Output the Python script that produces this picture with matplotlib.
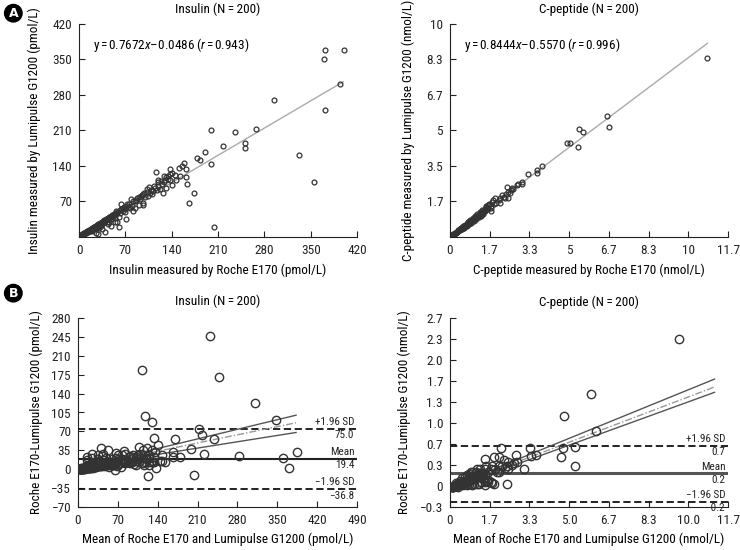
import numpy as np
import matplotlib
matplotlib.use('Agg')
from matplotlib import pyplot as plt
from matplotlib import transforms

FONTS = ['Roboto Condensed', 'Barlow Condensed', 'PT Sans Narrow', 'Archivo Narrow',
         'Liberation Sans', 'DejaVu Sans']
plt.rcParams['font.family'] = FONTS
plt.rcParams['mathtext.fontset'] = 'custom'
plt.rcParams['mathtext.rm'] = 'Roboto Condensed'
plt.rcParams['mathtext.it'] = 'Roboto Condensed:italic'
plt.rcParams['font.size'] = 9

# insulin, pmol/L: Roche E170 (x) vs Lumipulse G1200 (y)
ins_roche = [400, 372, 370, 394, 372, 294, 332, 355, 267, 236,
             199, 217, 250, 250, 199, 190, 178, 182, 159, 161,
             151, 162, 163, 174, 166, 204,
             117, 128, 131, 135, 138, 140, 138, 130, 138, 147,
             141, 127, 123, 120, 118, 125, 132, 106, 108, 110,
             102, 104, 98, 95, 92, 96, 100, 88, 85, 90,
             84, 82, 80, 78, 72, 70, 68, 66, 64, 62,
             60, 58, 60, 63, 58, 56, 55, 52, 50, 48,
             46, 45, 44, 42, 40, 39, 38, 36, 35, 34,
             33, 32, 30, 30, 29, 28, 28, 27, 26, 25,
             24, 23, 22, 21, 20, 20, 19, 18, 17, 16,
             15, 14, 13, 12, 11, 10, 9, 8, 7, 6,
             5, 4, 3, 2,
             10, 12, 15, 18, 22, 25, 28, 31, 34, 37,
             40, 43, 47, 50, 54, 57, 8, 6, 14, 16,
             19, 21, 24, 26, 27, 33, 36, 41, 44, 49,
             53, 56, 65, 75, 76, 86, 94, 112, 115, 120,
             3, 4, 5, 6, 7, 9, 11, 13, 17, 20,
             23, 25, 29, 32, 35, 38, 42, 48, 51, 55,
             71, 62, 66, 69, 73, 77, 81, 97, 91, 97,
             103, 107, 113, 119, 124, 129, 134, 145, 152, 155]
ins_lumi = [369, 369, 350, 302, 250, 270, 162, 109, 212, 208,
            210, 180, 186, 175, 143, 168, 155, 151, 145, 134,
            136, 118, 105, 87, 68, 20,
            129, 120, 118, 121, 124, 127, 135, 112, 112, 112,
            102, 86, 95, 100, 92, 105, 96, 98, 92, 84,
            88, 80, 86, 82, 75, 68, 78, 76, 70, 64,
            58, 52, 62, 74, 66, 56, 60, 52, 66, 48,
            40, 30, 20, 56, 50, 46, 38, 44, 42, 36,
            40, 30, 26, 35, 34, 10, 30, 28, 25, 30,
            22, 26, 25, 18, 22, 20, 5, 24, 18, 21,
            16, 19, 18, 15, 17, 12, 14, 15, 13, 14,
            12, 11, 10, 10, 9, 8, 7, 7, 6, 5,
            4, 4, 2, 2,
            9, 11, 13, 16, 19, 22, 24, 27, 28, 32,
            35, 36, 40, 44, 46, 48, 6, 6, 12, 12,
            16, 17, 20, 22, 22, 28, 31, 33, 38, 40,
            45, 52, 55, 60, 66, 72, 80, 90, 96, 108,
            3, 3, 5, 4, 7, 8, 10, 11, 14, 15,
            20, 8, 25, 24, 15, 33, 30, 22, 40, 30,
            35, 54, 58, 50, 62, 57, 70, 63, 78, 84,
            94, 86, 100, 112, 110, 108, 114, 122, 120, 140]

# C-peptide, nmol/L
cp_roche = [10.78, 6.59, 6.66, 5.43, 5.59, 4.90, 5.04, 5.36, 3.85, 3.66,
            3.66, 3.26, 3.01, 3.01, 2.80, 2.41, 2.87, 2.66, 2.45, 2.31,
            2.10, 1.89, 1.75, 1.61, 1.47, 2.55, 2.50, 2.20, 2.05, 1.95,
            1.80, 1.70, 1.65, 2.60, 2.35, 1.55, 1.50, 1.45, 2.44, 2.10,
            1.70, 0.77, 1.85, 2.25,
            0.05, 0.10, 0.12, 0.15, 0.18, 0.20, 0.22, 0.25, 0.28, 0.30,
            0.32, 0.35, 0.38, 0.40, 0.42, 0.45, 0.48, 0.50, 0.52, 0.55,
            0.58, 0.60, 0.62, 0.65, 0.68, 0.70, 0.72, 0.75, 0.78, 0.80,
            0.82, 0.85, 0.88, 0.90, 0.92, 0.95, 0.98, 1.00, 1.02, 1.05,
            1.08, 1.10, 1.12, 1.15, 1.18, 1.20, 1.22, 1.25, 1.28, 1.30,
            1.32, 1.35, 1.38, 1.40, 1.42, 1.45,
            0.30, 0.35, 0.50, 0.55, 0.60, 0.70, 0.75, 0.80, 0.85, 0.90,
            0.95, 1.00, 1.05, 1.10, 1.15, 1.20, 1.25, 1.30, 1.35, 1.40,
            1.50, 1.60, 1.65, 1.70,
            0.08, 0.14, 0.24, 0.34, 0.44, 0.54, 0.64, 0.74, 0.84, 0.94,
            1.04, 1.14, 1.24, 1.34, 1.44, 0.66, 0.86, 1.06, 1.26, 0.46]
cp_lumi = [8.42, 5.68, 5.16, 5.08, 4.94, 4.41, 4.41, 4.21, 3.33, 3.15,
           3.02, 2.96, 2.60, 2.49, 2.44, 2.35, 2.47, 2.24, 2.13, 1.82,
           1.85, 1.82, 1.66, 1.50, 1.27, 2.20, 2.05, 1.95, 1.75, 1.60,
           1.72, 1.45, 1.55, 2.30, 2.00, 1.35, 1.40, 1.30, 1.81, 1.60,
           1.24, 0.69, 1.55, 1.90,
           0.04, 0.08, 0.10, 0.13, 0.15, 0.17, 0.19, 0.21, 0.24, 0.25,
           0.28, 0.30, 0.31, 0.34, 0.36, 0.38, 0.40, 0.43, 0.44, 0.46,
           0.48, 0.50, 0.53, 0.55, 0.57, 0.60, 0.60, 0.63, 0.66, 0.68,
           0.70, 0.72, 0.73, 0.77, 0.78, 0.80, 0.82, 0.85, 0.86, 0.90,
           0.92, 0.93, 0.96, 0.97, 1.00, 1.03, 1.05, 1.06, 1.10, 1.12,
           1.13, 1.14, 1.18, 1.20, 1.22, 1.24,
           0.22, 0.33, 0.38, 0.50, 0.44, 0.52, 0.70, 0.60, 0.78, 0.68,
           0.90, 0.75, 0.98, 0.85, 1.08, 0.95, 1.18, 1.00, 1.25, 1.10,
           1.45, 1.30, 1.52, 1.35,
           0.06, 0.12, 0.20, 0.28, 0.38, 0.45, 0.52, 0.64, 0.70, 0.76,
           0.88, 0.98, 1.04, 1.10, 1.20, 0.56, 0.74, 0.88, 1.06, 0.40]

# fitted lines
ins_fit_x = [0, 399]
ins_fit_y = [0, 306]
cp_fit_x = [0, 10.8]
cp_fit_y = [0, 9.09]

# Bland-Altman summary values
ins_mean, ins_upper, ins_lower = 19.4, 75.0, -36.8
cp_mean, cp_upper, cp_lower = 0.233, 0.675, -0.213
ins_ba_labels = ['+1.96 SD', '75.0', 'Mean', '19.4', '\u22121.96 SD', '\u221236.8']
cp_ba_labels = ['+1.96 SD', '0.7', 'Mean', '0.2', '\u22121.96 SD', '\u22120.2']

# regression of difference on mean, with 95% CI
ins_reg_x = [0, 60, 383]
ins_reg_mid = [3, 16, 86]
ins_reg_hi = [5, 18, 100]
ins_reg_lo = [1, 14, 68]
cp_reg_x = [0, 1.5, 11.1]
cp_reg_mid = [0.01, 0.225, 1.605]
cp_reg_hi = [0.03, 0.25, 1.73]
cp_reg_lo = [-0.01, 0.20, 1.52]

ins_ticks = [0, 70, 140, 210, 280, 350, 420]
ins_ba_xticks = [0, 70, 140, 210, 280, 350, 420, 490]
ins_ba_yticks = [-70, -35, 0, 35, 70, 105, 140, 175, 210, 245, 280]
cp_step = 11.6667 / 7
cp_xlabels = ['0', '1.7', '3.3', '5', '6.7', '8.3', '10', '11.7']
cp_ylabels = ['1.7', '3.5', '5', '6.7', '8.3', '10']
cp_ba_xlabels = ['0', '1.7', '3.3', '5.0', '6.7', '8.3', '10.0', '11.7']
cp_ba_ylabels = ['\u22120.3', '0', '0.3', '0.7', '1.0', '1.3', '1.7', '2.0', '2.3', '2.7']

FS = 9.5


def style(ax):
    ax.spines['top'].set_visible(False)
    ax.spines['right'].set_visible(False)
    for s in ['left', 'bottom']:
        ax.spines[s].set_linewidth(0.8)
        ax.spines[s].set_color('#222222')
    ax.tick_params(direction='in', length=4, width=0.8, labelsize=FS, pad=5, colors='#222222')


fig = plt.figure(figsize=(7.4, 5.5), dpi=100)
ax1 = fig.add_axes([0.1068, 0.5691, 0.3757, 0.3873])
ax2 = fig.add_axes([0.6081, 0.5691, 0.3757, 0.3873])
ax3 = fig.add_axes([0.1054, 0.0782, 0.3770, 0.3436])
ax4 = fig.add_axes([0.6081, 0.0782, 0.3757, 0.3436])

# --- top-left: insulin correlation
ax1.plot(ins_fit_x, ins_fit_y, color='#aaaaaa', lw=1)
ax1.plot(ins_roche, ins_lumi, 'o', ms=3.5, mfc='none', mec='#333333', mew=0.9)
ax1.set_xlim(0, 420)
ax1.set_ylim(0, 420)
ax1.set_xticks(ins_ticks)
ax1.set_yticks(ins_ticks[1:])
style(ax1)
ax1.set_title('Insulin (N\u2009=\u2009200)', fontsize=FS, pad=8)
ax1.set_xlabel('Insulin measured by Roche E170 (pmol/L)', fontsize=FS, labelpad=5)
ax1.set_ylabel('Insulin measured by Lumipulse G1200 (pmol/L)', fontsize=FS, labelpad=8)
ax1.text(0.05, 0.9, r'y$\,$=$\,$0.7672$\mathit{x}$' + '\u2013' + r'0.0486 ($\mathit{r}$$\,$=$\,$0.943)',
         transform=ax1.transAxes, fontsize=FS, va='center')

# --- top-right: C-peptide correlation
ax2.plot(cp_fit_x, cp_fit_y, color='#aaaaaa', lw=1)
ax2.plot(cp_roche, cp_lumi, 'o', ms=3.5, mfc='none', mec='#333333', mew=0.9)
ax2.set_xlim(0, 7 * cp_step)
ax2.set_ylim(0, 10)
ax2.set_xticks([i * cp_step for i in range(8)], cp_xlabels)
ax2.set_yticks([i * 10 / 6 for i in range(1, 7)], cp_ylabels)
style(ax2)
ax2.set_title('C-peptide (N\u2009=\u2009200)', fontsize=FS, pad=8)
ax2.set_xlabel('C-peptide measured by Roche E170 (nmol/L)', fontsize=FS, labelpad=5)
ax2.set_ylabel('C-peptide measured by Lumipulse G1200 (nmol/L)', fontsize=FS, labelpad=8)
ax2.text(0.05, 0.9, r'y$\,$=$\,$0.8444$\mathit{x}$' + '\u2013' + r'0.5570 ($\mathit{r}$$\,$=$\,$0.996)',
         transform=ax2.transAxes, fontsize=FS, va='center')


def bland_altman(ax, roche, lumi, mean, upper, lower, labels, reg_x, reg_mid, reg_hi, reg_lo,
                 mean_color='#222222', mean_lw=1.5):
    roche = np.array(roche)
    lumi = np.array(lumi)
    avg = (roche + lumi) / 2
    diff = roche - lumi
    ax.axhline(upper, color='#111111', lw=1.3, ls=(0, (4, 2)))
    ax.axhline(lower, color='#111111', lw=1.3, ls=(0, (4, 2)))
    ax.axhline(mean, color=mean_color, lw=mean_lw)
    ax.plot(avg, diff, 'o', ms=6, mfc='none', mec='#333333', mew=1.0, zorder=3)
    ax.plot(reg_x, reg_hi, color='#555555', lw=1)
    ax.plot(reg_x, reg_lo, color='#555555', lw=1)
    ax.plot(reg_x, reg_mid, color='#999999', lw=1, ls=(0, (5, 1.5, 1, 1.5)))
    tr = transforms.blended_transform_factory(ax.transAxes, ax.transData)
    for lab, yv, off in zip(labels, [upper, upper, mean, mean, lower, lower],
                            [1, -1, 1, -1, 1, -1]):
        ax.annotate(lab, xy=(0.99, yv), xycoords=tr, xytext=(0, 1.2 * off), textcoords='offset points',
                    ha='right', va='bottom' if off > 0 else 'top', fontsize=8, color='#222222')


# --- bottom-left: insulin Bland-Altman
bland_altman(ax3, ins_roche, ins_lumi, ins_mean, ins_upper, ins_lower, ins_ba_labels,
             ins_reg_x, ins_reg_mid, ins_reg_hi, ins_reg_lo)
ax3.set_xlim(0, 490)
ax3.set_ylim(-70, 280)
ax3.set_xticks(ins_ba_xticks)
ax3.set_yticks(ins_ba_yticks, [str(v).replace('-', '\u2212') for v in ins_ba_yticks])
style(ax3)
ax3.set_title('Insulin (N\u2009=\u2009200)', fontsize=FS, pad=9)
ax3.set_xlabel('Mean of Roche E170 and Lumipulse G1200 (pmol/L)', fontsize=FS, labelpad=4)
ax3.set_ylabel('Roche E170-Lumipulse G1200 (pmol/L)', fontsize=FS, labelpad=6)

# --- bottom-right: C-peptide Bland-Altman
bland_altman(ax4, cp_roche, cp_lumi, cp_mean, cp_upper, cp_lower, cp_ba_labels,
             cp_reg_x, cp_reg_mid, cp_reg_hi, cp_reg_lo, mean_color='#555555', mean_lw=2.2)
ax4.set_xlim(0, 7 * cp_step)
ax4.set_ylim(-0.3, 2.7)
ax4.set_xticks([i * cp_step for i in range(8)], cp_ba_xlabels)
ax4.set_yticks([-0.3 + i / 3 for i in range(10)], cp_ba_ylabels)
style(ax4)
ax4.set_title('C-peptide (N\u2009=\u2009200)', fontsize=FS, pad=9)
ax4.set_xlabel('Mean of Roche E170 and Lumipulse G1200 (nmol/L)', fontsize=FS, labelpad=4)
ax4.set_ylabel('Roche E170-Lumipulse G1200 (nmol/L)', fontsize=FS, labelpad=6)

# panel letters
for letter, yy in [('A', 0.976), ('B', 0.467)]:
    fig.text(0.018, yy, letter, color='white', fontsize=9, fontweight='bold',
             family='DejaVu Sans', ha='center', va='center',
             bbox=dict(boxstyle='circle,pad=0.18', fc='black', ec='black'))

fig.savefig('out.png', dpi=100)
